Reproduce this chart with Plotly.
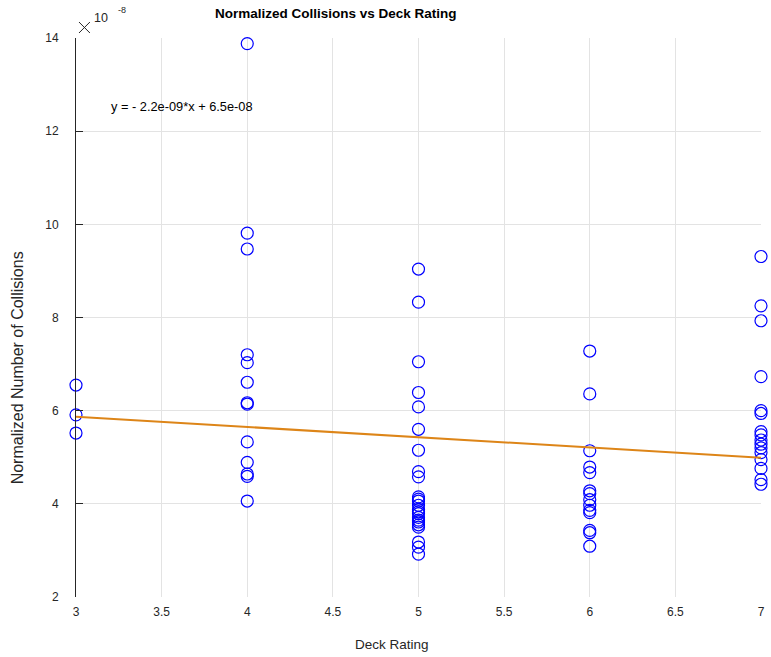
import plotly.graph_objects as go

# Data (values in units of 1e-8)
deck_3 = [6.55, 5.91, 5.52]
deck_4 = [13.88, 9.81, 9.47, 7.20, 7.03, 6.61, 6.17, 6.14, 5.33, 4.89, 4.64, 4.59, 4.06]
deck_5 = [9.04, 8.33, 7.05, 6.39, 6.08, 5.60, 5.15, 4.69, 4.58, 4.15, 4.10, 4.06,
          3.97, 3.88, 3.83, 3.79, 3.71, 3.65, 3.61, 3.55, 3.50, 3.18, 3.07, 2.92]
deck_6 = [7.28, 6.36, 5.14, 4.79, 4.67, 4.28, 4.22, 4.09, 3.97, 3.86, 3.81, 3.43, 3.38, 3.09]
deck_7 = [9.31, 8.25, 7.93, 6.73, 6.00, 5.94, 5.55, 5.48, 5.37, 5.28, 5.20, 5.10,
          4.95, 4.76, 4.52, 4.42]
ratings = [3, 4, 5, 6, 7]
groups = [deck_3, deck_4, deck_5, deck_6, deck_7]

fit_slope = -2.2e-9
fit_intercept = 6.53e-8
scale = 1e-8
equation_text = "y = - 2.2e-09*x + 6.5e-08"

x_ticks = [3, 3.5, 4, 4.5, 5, 5.5, 6, 6.5, 7]
y_ticks = [2, 4, 6, 8, 10, 12, 14]

xs, ys = [], []
for r, g in zip(ratings, groups):
    xs += [r] * len(g)
    ys += g

fit_x = [min(ratings), max(ratings)]
fit_y = [(fit_slope * xv + fit_intercept) / scale for xv in fit_x]

fig = go.Figure()
fig.add_trace(go.Scatter(
    x=xs, y=ys, mode="markers",
    marker=dict(symbol="circle-open", size=12, color="#0000FF", line=dict(width=1.2, color="#0000FF")),
    cliponaxis=False, showlegend=False))
fig.add_trace(go.Scatter(
    x=fit_x, y=fit_y, mode="lines",
    line=dict(color="#DD8518", width=2), showlegend=False))

FONT = "Liberation Sans, Arial, sans-serif"
W, H = 771, 657
L, R, T, B = 76, 6, 38, 60
pw, ph = W - L - R, H - T - B

def px(x):
    return (x - L) / pw

def py(y):
    return (H - B - y) / ph

annotations = [
    dict(text="<b>Normalized Collisions vs Deck Rating</b>", x=px(338), y=py(14),
         font=dict(size=13.5, color="#000000")),
    dict(text="Deck Rating", x=px(394), y=py(645), font=dict(size=13.5, color="#262626")),
    dict(text="Normalized Number of Collisions", x=px(17), y=py(368), textangle=-90,
         font=dict(size=16, color="#262626")),
    dict(text="10", x=px(101), y=py(18), font=dict(size=12.5, color="#262626")),
    dict(text="-8", x=px(122), y=py(10), font=dict(size=9, color="#262626")),
]
for a in annotations:
    a.update(xref="paper", yref="paper", showarrow=False, xanchor="center", yanchor="middle")
annotations.append(dict(text=equation_text, x=3.19, y=12.52, xref="x", yref="y",
                        showarrow=False, xanchor="left", yanchor="middle",
                        font=dict(size=12.8, color="#000000")))

# thin multiplication cross of the exponent label
cross = [((79, 22), (90, 33)), ((79, 33), (90, 22))]
shapes = [dict(type="line", xref="paper", yref="paper",
               x0=px(a[0]), y0=py(a[1]), x1=px(b[0]), y1=py(b[1]),
               line=dict(color="#262626", width=1)) for a, b in cross]

fig.update_layout(
    width=W, height=H,
    margin=dict(l=L, r=R, t=T, b=B, pad=0),
    paper_bgcolor="white", plot_bgcolor="white",
    font=dict(family=FONT, color="#262626", size=12),
    annotations=annotations,
    shapes=shapes,
    xaxis=dict(range=[3, 7], tickvals=x_ticks, ticktext=[f"{v:g}" for v in x_ticks],
               showgrid=True, gridcolor="#E3E3E3", gridwidth=1, zeroline=False,
               showline=False, ticks="", ticklabelstandoff=6,
               tickfont=dict(size=12, color="#262626")),
    yaxis=dict(range=[2, 14], tickvals=y_ticks, ticktext=[str(v) for v in y_ticks],
               showgrid=True, gridcolor="#E3E3E3", gridwidth=1, zeroline=False,
               showline=True, linecolor="#262626", linewidth=1,
               ticks="inside", ticklen=7, tickcolor="#262626",
               ticklabelstandoff=14, tickfont=dict(size=12, color="#262626")),
)

fig.write_html("out.html", config={"displayModeBar": False},
               post_script="document.body.style.margin='0';document.body.style.overflow='hidden';")
